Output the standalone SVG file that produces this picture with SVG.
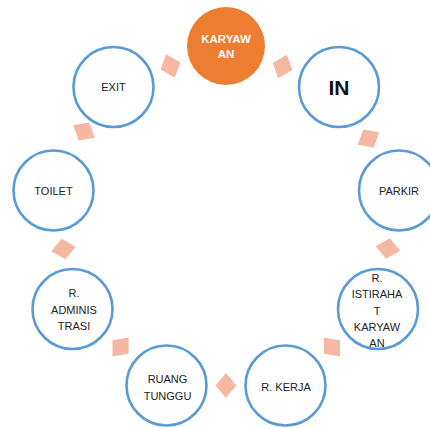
<svg xmlns="http://www.w3.org/2000/svg" width="430" height="428" viewBox="0 0 430 428">
<style>
.n{fill:#fff;stroke:#5B9BD5;stroke-width:2.6}
.o{fill:#ED7D31;stroke:none}
.t{font-family:"Liberation Sans",Arial,sans-serif;font-size:11px;fill:#222;text-anchor:middle}
.w{font-family:"Liberation Sans",Arial,sans-serif;font-size:11.5px;font-weight:bold;fill:#fff;text-anchor:middle}
.b{font-family:"Liberation Sans",Arial,sans-serif;font-size:21px;font-weight:bold;fill:#111;text-anchor:middle}
.d{fill:#F4B8A3}
</style>
<defs>
<path id="dm" d="M10.5,0 L0,12.5 L-10.5,0 L0,-12.5 Z"/>
</defs>
<rect width="430" height="428" fill="#fff"/>
<g id="connectors">
<use href="#dm" class="d" transform="translate(282.5,66.5) rotate(20)"/>
<use href="#dm" class="d" transform="translate(368.5,138.5) rotate(60)"/>
<use href="#dm" class="d" transform="translate(388,248.5) rotate(100)"/>
<use href="#dm" class="d" transform="translate(332,347) rotate(140)"/>
<use href="#dm" class="d" transform="translate(226,385.5) rotate(180)"/>
<use href="#dm" class="d" transform="translate(120.5,347) rotate(220)"/>
<use href="#dm" class="d" transform="translate(63.5,249) rotate(260)"/>
<use href="#dm" class="d" transform="translate(84,131.5) rotate(300)"/>
<use href="#dm" class="d" transform="translate(170.5,66) rotate(340)"/>
</g>
<g id="karyawan">
<circle class="o" cx="226" cy="46" r="39"/>
<text class="w" x="226" y="42.7">KARYAW</text>
<text class="w" x="226" y="58.3">AN</text>
</g>
<g id="in">
<circle class="n" cx="339" cy="87" r="40"/>
<text class="b" x="339" y="95">IN</text>
</g>
<g id="parkir">
<circle class="n" cx="399" cy="190.5" r="40"/>
<text class="t" x="399" y="194.5">PARKIR</text>
</g>
<g id="istirahat">
<circle class="n" cx="378" cy="309" r="40"/>
<text class="t" x="377" y="282">R.</text>
<text class="t" x="377" y="298.3">ISTIRAHA</text>
<text class="t" x="377" y="314.5">T</text>
<text class="t" x="377" y="330.7">KARYAW</text>
<text class="t" x="377" y="347">AN</text>
</g>
<g id="kerja">
<circle class="n" cx="285.5" cy="385.5" r="40"/>
<text class="t" x="286" y="390.5">R. KERJA</text>
</g>
<g id="tunggu">
<circle class="n" cx="166.5" cy="385.5" r="40"/>
<text class="t" x="167.5" y="383.3">RUANG</text>
<text class="t" x="167.5" y="400">TUNGGU</text>
</g>
<g id="administrasi">
<circle class="n" cx="72.5" cy="309" r="40"/>
<text class="t" x="74" y="297">R.</text>
<text class="t" x="74" y="313.5">ADMINIS</text>
<text class="t" x="74" y="330">TRASI</text>
</g>
<g id="toilet">
<circle class="n" cx="53.5" cy="190.5" r="40"/>
<text class="t" x="53.5" y="194.5">TOILET</text>
</g>
<g id="exit">
<circle class="n" cx="113.5" cy="87" r="40"/>
<text class="t" x="113.5" y="91">EXIT</text>
</g>
</svg>
